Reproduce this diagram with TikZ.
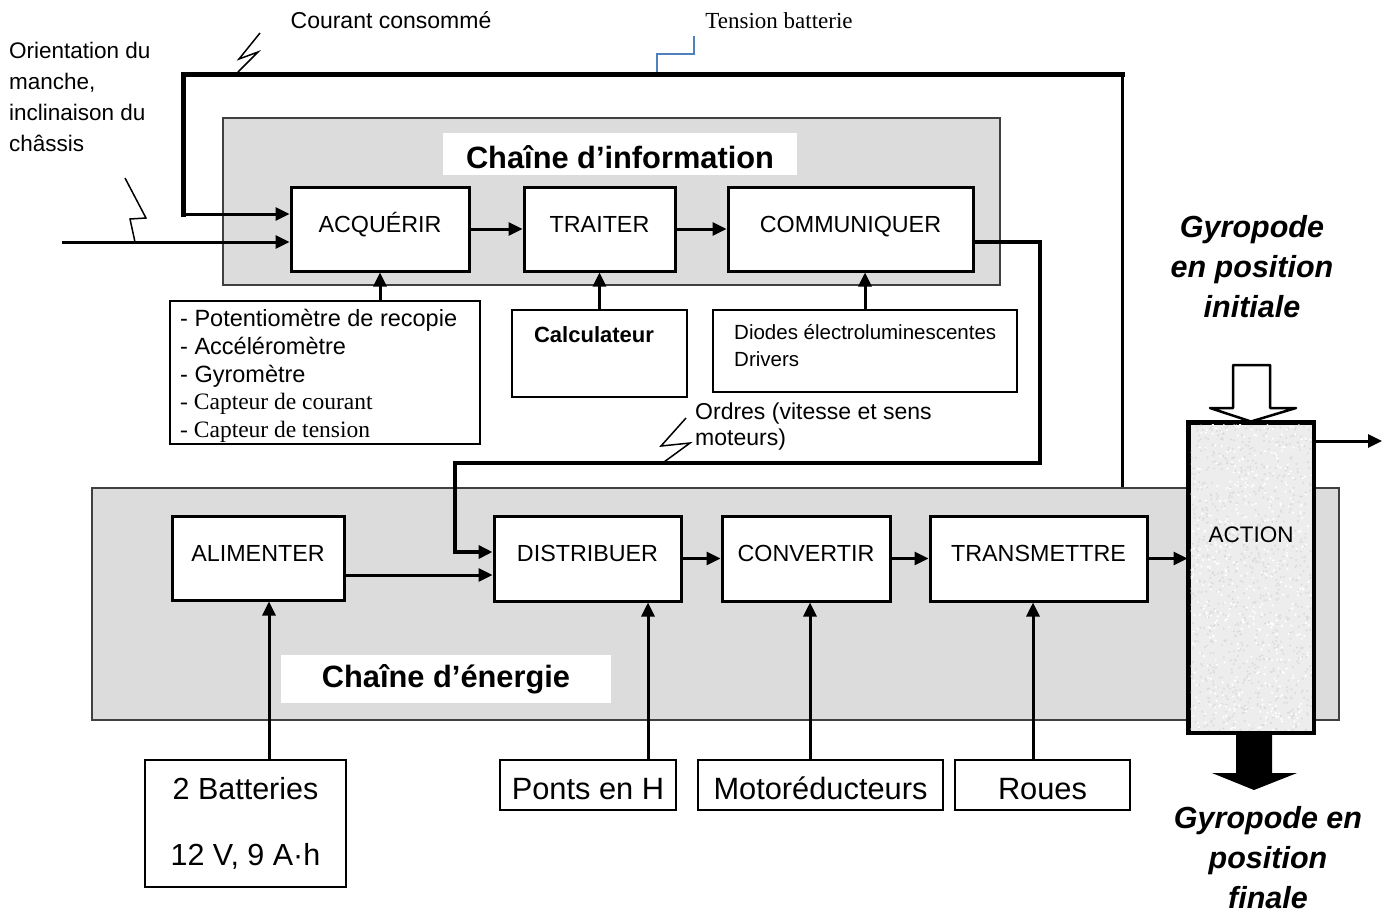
\documentclass[tikz,border=0pt]{standalone}
\usepackage{fontspec}
\setmainfont{Liberation Sans}
\newfontfamily\timesf{Liberation Serif}
\usetikzlibrary{arrows.meta,calc}
\definecolor{chain}{HTML}{DCDCDC}
\definecolor{actfill}{HTML}{EDEDED}
\definecolor{stepblue}{HTML}{4F81BD}
\newcommand\fsz[2]{\fontsize{#1}{#2}\selectfont}
\begin{document}
\begin{tikzpicture}[x=1pt,y=-1pt,
  chainbox/.style={draw=black!75, line width=1.2pt, fill=chain, inner sep=0pt},
  titlebox/.style={fill=white, inner sep=0pt, font=\fsz{30.8}{36}\bfseries},
  fbox/.style={draw, line width=3pt, fill=white, inner sep=0pt, text height=17pt, text depth=10.4pt, font=\fsz{23.3}{27}},
  tbox/.style={draw, line width=1.3pt, fill=white, inner sep=0pt},
  bbox/.style={tbox, minimum height=50pt, text height=29pt, text depth=0pt, font=\fsz{30.8}{36}},
  arr/.style={line width=3pt, -{Triangle[length=14pt,width=13pt]}},
  bolt/.style={line width=1.5pt, line join=miter},
  txt/.style={inner sep=0pt, font=\fsz{23}{31}},
  gyro/.style={txt, align=center, font=\fsz{30.5}{40}\bfseries\itshape},
]
\useasboundingbox (0,0) rectangle (1396,914);

% chains
\node[chainbox, minimum width=777pt, minimum height=167pt] (info) at (611.5,201.5) {};
\node[chainbox, minimum width=1247pt, minimum height=232pt] (energy) at (715.5,604) {};
\node[titlebox, minimum width=354pt, minimum height=42pt, text height=28pt, text depth=0pt] (infot) at (620,154) {Chaîne d’information};
\node[titlebox, minimum width=330pt, minimum height=48pt] (enert) at (446,679) {Chaîne d’énergie};

% function boxes
\node[fbox, minimum width=178pt, minimum height=84pt] (acq) at (380,229) {ACQUÉRIR};
\node[fbox, minimum width=151pt, minimum height=84pt] (trait) at (599.5,229) {TRAITER};
\node[fbox, minimum width=245pt, minimum height=84pt] (comm) at (850.5,229) {COMMUNIQUER};
\node[fbox, minimum width=172pt, minimum height=84pt] (alim) at (258,558) {ALIMENTER};
\node[fbox, minimum width=187pt, minimum height=85pt] (dist) at (587.5,558.5) {DISTRIBUER};
\node[fbox, minimum width=168pt, minimum height=85pt] (conv) at (806,558.5) {CONVERTIR};
\node[fbox, minimum width=217pt, minimum height=85pt] (trans) at (1038.5,558.5) {TRANSMETTRE};

% action
\node[draw, line width=3pt, fill=actfill, minimum width=124pt, minimum height=309pt, inner sep=0pt] (action) at (1251,577.5) {};
\begin{scope}
  \clip (1190.5,424.5) rectangle (1311.5,730.5);
  \pgfmathsetseed{7}
  \foreach \i in {1,...,900} {
    \fill[black!14] (1190+rnd*122, 424+rnd*307) circle (1.1pt);
  }
  \foreach \i in {1,...,500} {
    \fill[white] (1190+rnd*122, 424+rnd*307) circle (1.2pt);
  }
\end{scope}
\draw[line width=3pt] (action.north west) rectangle (action.south east);
\node[txt, font=\fsz{22.5}{27}] (actlbl) at (1251,535) {ACTION};
\draw[line width=2.5pt, fill=white, line join=round] (1233,365) -- (1270,365) -- (1270,408) -- (1296,408) -- (action.north) -- (1210,408) -- (1233,408) -- cycle;
\fill (1236,732) -- (1272,732) -- (1272,773) -- (1297,773) -- (1254,790) -- (1212,773) -- (1236,773) -- cycle;
\coordinate (out) at (1382,441);
\draw[arr] (out -| action.east) -- (out);

% support boxes
\node[tbox, minimum width=310pt, minimum height=143pt] (sens) at (325,372.5) {};
\node[txt, align=left, anchor=west, font=\fsz{23.5}{27.7}] (senst) at (180,376)
  {- Potentiomètre de recopie\\- Accéléromètre\\- Gyromètre\\{\timesf - Capteur de courant}\\{\timesf - Capteur de tension}};
\node[tbox, minimum width=175pt, minimum height=87pt] (calc) at (599.5,353.5) {};
\node[txt, font=\fsz{22}{26}\bfseries] (calct) at (594,335) {Calculateur};
\node[tbox, minimum width=304pt, minimum height=82pt] (diod) at (865,351) {};
\node[txt, align=left, anchor=west, font=\fsz{20.5}{27}] (diodt) at (734,345.5) {Diodes électroluminescentes\\Drivers};

\node[tbox, minimum width=201pt, minimum height=127pt, align=center, font=\fsz{30.5}{66}] (batt) at (245.5,823.5) {2 Batteries\\12 V, 9 A·h};
\node[bbox, minimum width=176pt] (ponts) at (588,785) {Ponts en H};
\node[bbox, minimum width=245pt] (moto) at (820.5,785) {Motoréducteurs};
\node[bbox, minimum width=175pt] (roues) at (1042.5,785) {Roues};

% free texts
\node[txt, align=left, anchor=west, font=\fsz{22.5}{31}] (orient) at (9,97) {Orientation du\\manche,\\inclinaison du\\châssis};
\node[txt] (courant) at (391,20) {Courant consommé};
\node[txt, font=\fsz{23}{27}\timesf] (tension) at (779,21) {Tension batterie};
\node[txt, align=left, anchor=west, font=\fsz{23}{26}] (ordres) at (695,427) {Ordres (vitesse et sens\\moteurs)};
\node[gyro] (gi) at (1252,267) {Gyropode\\en position\\initiale};
\node[gyro] (gf) at (1268,858) {Gyropode en\\position\\finale};

% information chain arrows
\draw[arr] (acq.east) -- (trait.west);
\draw[arr] (trait.east) -- (comm.west);
\draw[arr] (sens.north -| acq.south) -- (acq.south);
\draw[arr] (calc.north) -- (calc.north |- trait.south);
\draw[arr] (diod.north) -- (diod.north |- comm.south);
\coordinate (in) at (62,242);
\draw[arr] (in) -- ([yshift=-13pt]acq.west);

% feedback loop
\coordinate (fbr) at (1122,74);
\coordinate (fbl) at (183,74);
\coordinate (fbc) at ([yshift=15pt]acq.west -| fbl);
\draw[line width=3pt] (energy.north -| fbr) -- (fbr);
\draw[line width=5pt, line cap=rect, line join=miter] (fbr) -- (fbl) -- (fbc);
\draw[arr] (fbc) -- ([yshift=15pt]acq.west);

% orders
\coordinate (c1) at (1040,463);
\coordinate (c2) at (455,463);
\draw[arr, line width=4.5pt, line join=miter] ([yshift=-13pt]comm.east) -| (c1) -- (c2) |- ([yshift=6.5pt]dist.west);

% energy chain arrows
\draw[arr] ([yshift=-17pt]alim.east) -- ([yshift=-17pt]alim.east -| dist.west);
\draw[arr] (dist.east) -- (conv.west);
\draw[arr] (conv.east) -- (trans.west);
\draw[arr] (trans.east) -- (trans.east -| action.west);
\draw[arr] ([xshift=23.5pt]batt.north) -- ([xshift=23.5pt]batt.north |- alim.south);
\draw[arr] ([xshift=60pt]ponts.north) -- ([xshift=60pt]ponts.north |- dist.south);
\draw[arr] ([xshift=-10.5pt]moto.north) -- ([xshift=-10.5pt]moto.north |- conv.south);
\draw[arr] ([xshift=-9.5pt]roues.north) -- ([xshift=-9.5pt]roues.north |- trans.south);

% lightning bolts and step symbol
\draw[bolt] (260,33) -- (239,59) -- (258,52) -- (238,72);
\draw[bolt] (125,178) -- (146,218) -- (130,219) -- (135,242);
\draw[bolt] (686,418) -- (661,446) -- (690,443) -- (664,462);
\draw[stepblue, line width=1.5pt] (657,72) -- (657,54) -- (694,54) -- (694,36);
\end{tikzpicture}
\end{document}
